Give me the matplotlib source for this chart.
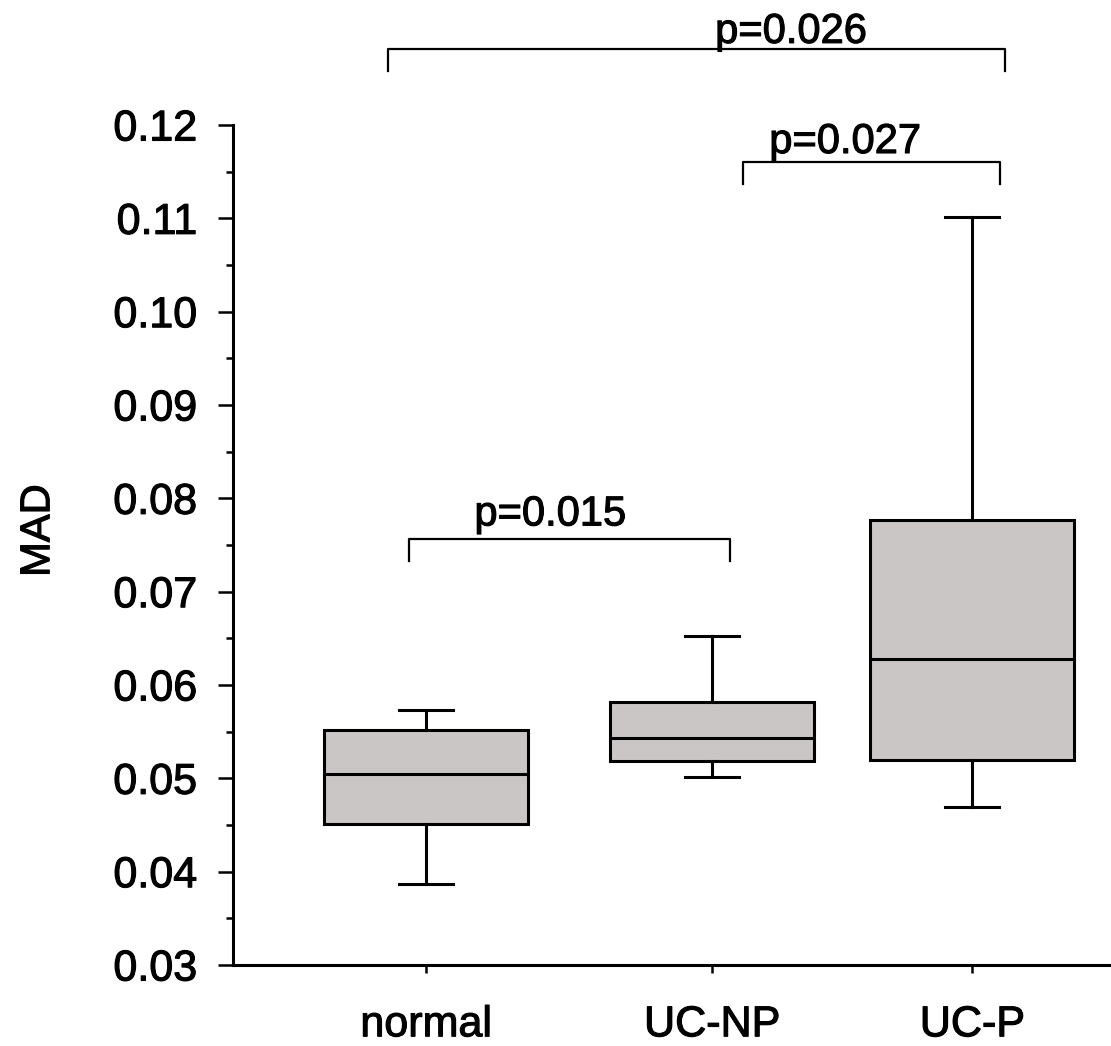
import matplotlib
matplotlib.use("Agg")
import matplotlib.pyplot as plt
import matplotlib.patheffects as pe
from matplotlib.ticker import MultipleLocator, FormatStrFormatter

plt.rcParams['font.family'] = ['Liberation Sans', 'DejaVu Sans']

# data
categories = ['normal', 'UC-NP', 'UC-P']
whislo = [0.0387, 0.0501, 0.0469]
q1 = [0.0451, 0.0519, 0.0520]
median = [0.0505, 0.0543, 0.0628]
q3 = [0.0552, 0.0582, 0.0777]
whishi = [0.0573, 0.0652, 0.1101]

# significance brackets
p_labels = ['p=0.015', 'p=0.027', 'p=0.026']
p_heights = [0.0756, 0.1160, 0.1281]
p_spans = [(0.94, 2.063), (2.108, 3.007), (0.867, 3.024)]
p_text_x = [1.434, 2.465, 2.276]
p_text_y = [0.0771, 0.1170, 0.1288]

positions = [1, 2, 2.91]

# slightly heavier text, the original looks a bit bold
heavy = [pe.withStroke(linewidth=0.8, foreground='black')]

fig = plt.figure(figsize=(11.11, 10.46), dpi=100)
ax = fig.add_axes([233 / 1111, 81 / 1046, 878 / 1111, 840 / 1046])

stats = []
for i, name in enumerate(categories):
    stats.append(dict(label=name, whislo=whislo[i], q1=q1[i], med=median[i],
                      q3=q3[i], whishi=whishi[i], fliers=[]))

lw = 2.2
ax.bxp(stats, positions=positions, widths=0.713, capwidths=0.19,
       showfliers=False, patch_artist=True,
       boxprops=dict(facecolor='#cac6c5', edgecolor='black', linewidth=lw),
       medianprops=dict(color='black', linewidth=lw),
       whiskerprops=dict(color='black', linewidth=lw),
       capprops=dict(color='black', linewidth=lw))

ax.set_xlim(0.325, 3.395)
ax.set_ylim(0.03, 0.12)

ax.spines['top'].set_visible(False)
ax.spines['right'].set_visible(False)
ax.spines['left'].set_linewidth(2.2)
ax.spines['bottom'].set_linewidth(2.2)

ax.yaxis.set_major_locator(MultipleLocator(0.01))
ax.yaxis.set_minor_locator(MultipleLocator(0.005))
ax.yaxis.set_major_formatter(FormatStrFormatter('%.2f'))
ax.tick_params(axis='y', which='major', length=11, width=1.8, pad=15, labelsize=31)
ax.tick_params(axis='y', which='minor', length=5, width=1.8)
ax.set_xticks(positions)
ax.set_xticklabels(categories)
ax.tick_params(axis='x', which='major', length=6, width=1.8, pad=23, labelsize=31)

ax.set_ylabel('MAD', fontsize=30)
ax.yaxis.set_label_coords(-0.199, 0.517)

leg = 0.0023
for (x0, x1), h, lab, tx, ty in zip(p_spans, p_heights, p_labels, p_text_x, p_text_y):
    ax.plot([x0, x0, x1, x1], [h - leg, h, h, h - leg], color='black',
            linewidth=1.6, clip_on=False)
    ax.text(tx, ty, lab, ha='center', va='baseline', fontsize=30,
            clip_on=False, path_effects=heavy)

for t in ax.get_xticklabels() + ax.get_yticklabels() + [ax.yaxis.label]:
    t.set_path_effects(heavy)

plt.savefig('out.png', dpi=100)
